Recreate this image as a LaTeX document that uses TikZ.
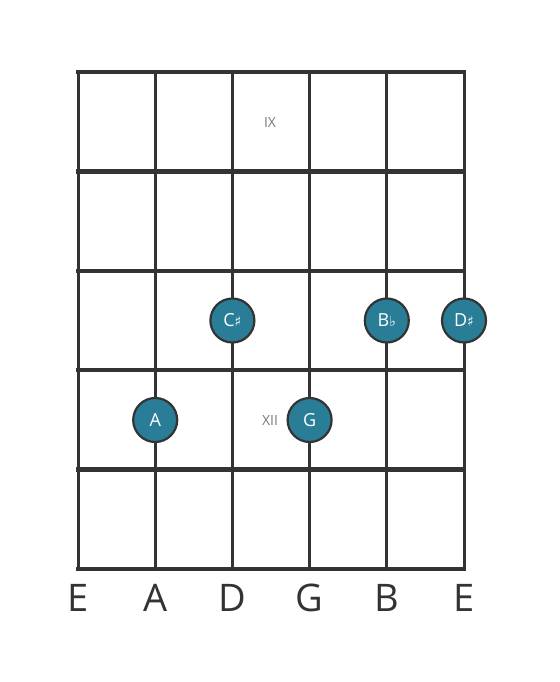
\documentclass[tikz,border=0pt]{standalone}
\usepackage{fontspec}
\setmainfont{Open Sans}
\newfontfamily\symfont{DejaVu Sans}
\usepackage{tikz}

\definecolor{fretgray}{HTML}{333333}
\definecolor{dotteal}{HTML}{2A7D97}
\definecolor{markgray}{HTML}{7A7A7A}

\tikzset{
  notedot/.style={circle, draw=fretgray, line width=2.2pt, fill=dotteal,
    minimum size=44pt, inner sep=0pt, text=white, font=\fontsize{18}{18}\selectfont},
  stringname/.style={text=fretgray, font=\fontsize{38}{38}\selectfont, inner sep=0pt},
  fretmark/.style={text=markgray, font=\fontsize{14}{14}\selectfont, inner sep=0pt}
}
\newcommand{\shp}{{\symfont\fontsize{14}{14}\selectfont ♯}}
\newcommand{\flt}{{\symfont\fontsize{14}{14}\selectfont ♭}}

\begin{document}
\begin{tikzpicture}[x=1pt, y=-1pt]
  \useasboundingbox (0,0) rectangle (559,682);
  % strings
  \foreach \s in {0,...,5}
    \draw[fretgray, line width=3pt] (78+77.2*\s,72) -- (78+77.2*\s,569);
  % frets
  \foreach \f in {0,...,5}
    \draw[fretgray, line width=4.5pt, line cap=rect] (78,72+99.4*\f) -- (464,72+99.4*\f);
  % position marks
  \node[fretmark] (mark9) at (270,123) {IX};
  \node[fretmark] (mark12) at (270,420) {XII};
  % notes
  \node[notedot] (csharp) at (232.4,320.5) {C\shp};
  \node[notedot] (bflat) at (386.8,320.5) {B\flt};
  \node[notedot] (dsharp) at (464,320.5) {D\shp};
  \node[notedot] (a) at (155.2,420) {A};
  \node[notedot] (g) at (309.6,420) {G};
  % string names
  \foreach \n/\s in {e6/0,a/1,d/2,g/3,b/4,e1/5}
    \coordinate (str-\n) at (78+77.2*\s,598);
  \node[stringname] (name-e6) at (str-e6) {E};
  \node[stringname] (name-a) at (str-a) {A};
  \node[stringname] (name-d) at (str-d) {D};
  \node[stringname] (name-g) at (str-g) {G};
  \node[stringname] (name-b) at (str-b) {B};
  \node[stringname] (name-e1) at (str-e1) {E};
\end{tikzpicture}
\end{document}
